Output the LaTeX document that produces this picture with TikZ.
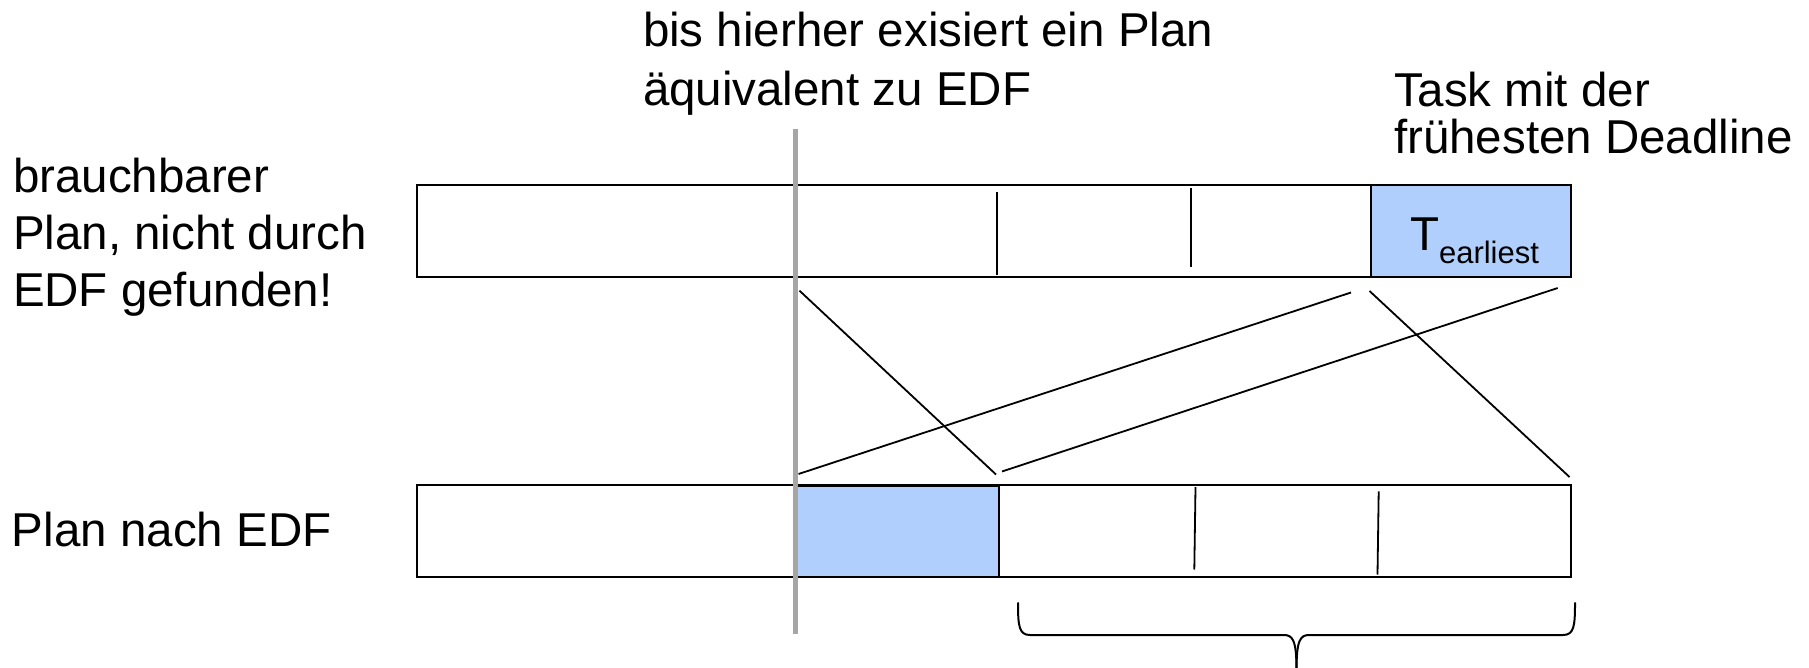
\documentclass[tikz,border=0pt]{standalone}
\usepackage{fontspec}
\setmainfont{Liberation Sans}
\definecolor{cellblue}{RGB}{176,207,252}
\definecolor{guide}{RGB}{166,166,166}
\tikzset{
  txt/.style={anchor=base west, inner sep=0pt, outer sep=0pt, font=\fontsize{47.5}{57}\selectfont},
  bar/.style={draw=black, line width=2pt},
  cell/.style={draw=black, fill=cellblue, line width=2pt},
  divider/.style={draw=black, line width=1.8pt},
  link/.style={draw=black, line width=1.8pt},
  guideline/.style={draw=guide, line width=5pt},
  bracestyle/.style={draw=black, line width=2pt, line cap=round, line join=round}
}
\begin{document}
\begin{tikzpicture}[x=1pt,y=-1pt]
\useasboundingbox (0,0) rectangle (1809,668);

% texts
\node[txt] (t1a) at (643,47) {bis hierher exisiert ein Plan};
\node[txt] (t1b) at (643,105.7) {äquivalent zu EDF};
\node[txt] (t2a) at (1394,106.7) {Task mit der};
\node[txt] (t2b) at (1394,153.3) {frühesten Deadline};
\node[txt] (t3a) at (13,192.7) {brauchbarer};
\node[txt] (t3b) at (13,250) {Plan, nicht durch};
\node[txt] (t3c) at (13,306.7) {EDF gefunden!};
\node[txt] (t4) at (12,546.7) {Plan nach EDF};

% top plan
\draw[bar] (416.5,184.6) rectangle (1571,277);
\draw[cell] (1370.6,184.6) rectangle (1571,277);
\draw[divider] (996.8,192.3) -- (996.8,275);
\draw[divider] (1190.6,188) -- (1190.6,266.6);
\node[txt] (tearl) at (1410,250.7) {T\raisebox{-12.6pt}{\fontsize{31}{31}\selectfont earliest}};

% bottom plan
\draw[bar] (416.5,484.6) rectangle (1571,576.9);
\draw[cell] (797,486.2) rectangle (999,576.9);
\draw[divider] (1195.5,487) -- (1194.3,569.5);
\draw[divider] (1378.7,491.3) -- (1377.5,574.5);

% guide line
\draw[guideline] (795,129) -- (795,633.5);

% connectors
\coordinate (a1) at (799.5,290.7);
\coordinate (a2) at (996,474.5);
\coordinate (b1) at (798.5,474);
\coordinate (b2) at (1351,292.5);
\coordinate (c1) at (1002,471.5);
\coordinate (c2) at (1557.7,288);
\coordinate (d1) at (1369.5,291);
\coordinate (d2) at (1569.5,477);
\draw[link] (a1) -- (a2);
\draw[link] (b1) -- (b2);
\draw[link] (c1) -- (c2);
\draw[link] (d1) -- (d2);

% brace
\coordinate (bl) at (1018,603);
\coordinate (br) at (1575,603);
\coordinate (btip) at (1296.5,670);
\draw[bracestyle] (bl) .. controls (1018,626) and (1019,635) .. (1030,635) -- (1284,635) .. controls (1293,635) and (1296.5,641) .. (btip);
\draw[bracestyle] (br) .. controls (1575,626) and (1574,635) .. (1563,635) -- (1309,635) .. controls (1300,635) and (1296.5,641) .. (btip);
\end{tikzpicture}
\end{document}
